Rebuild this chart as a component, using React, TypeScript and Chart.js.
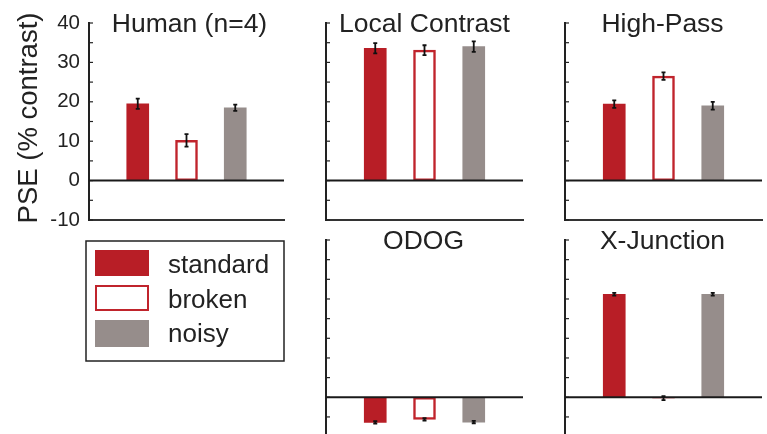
import React, { useEffect, useRef } from 'react';
import { Chart, registerables } from 'chart.js';

Chart.register(...registerables);

// ---------- data ----------
const conditions = ['standard', 'broken', 'noisy'];
const panelTitles = ['Human (n=4)', 'Local Contrast', 'High-Pass', 'ODOG', 'X-Junction'];
const humanValues = [19.5, 10.2, 18.5];
const humanErrors = [1.3, 1.6, 0.8];
const localContrastValues = [33.6, 33.1, 34.0];
const localContrastErrors = [1.3, 1.25, 1.35];
const highPassValues = [19.4, 26.5, 19.0];
const highPassErrors = [0.95, 0.95, 1.0];
const odogValues = [-6.4, -5.6, -6.3];
const odogErrors = [0.3, 0.3, 0.3];
const xJunctionValues = [26.2, -0.2, 26.2];
const xJunctionErrors = [0.35, 0.5, 0.35];
const yTickLabels = [-10, 0, 10, 20, 30, 40];
const yMin = -10;
const yMax = 40;
const yMinorStep = 5;
const yAxisTitle = 'PSE (% contrast)';

// ---------- styles ----------
const STD = 'rgb(184,30,38)';
const BROKEN = 'rgb(192,36,44)';
const NOISY = 'rgb(150,141,139)';
const INK = '#222';
const FONT = "'Liberation Sans', Arial, Helvetica, sans-serif";

const CANVAS_W = 767;
const CANVAS_H = 460;
const YW = 40;

type Area = { l: number; r: number; t: number; b: number };
type Panel = { title: string; values: number[]; errors: number[]; area: Area; showTicks: boolean; extras: boolean; titleDx: number };

const panels: Panel[] = [
  { title: panelTitles[0], values: humanValues, errors: humanErrors, area: { l: 89, r: 284, t: 23, b: 220 }, showTicks: true, extras: true, titleDx: 3 },
  { title: panelTitles[1], values: localContrastValues, errors: localContrastErrors, area: { l: 326, r: 523, t: 23, b: 220 }, showTicks: false, extras: false, titleDx: 0 },
  { title: panelTitles[2], values: highPassValues, errors: highPassErrors, area: { l: 565, r: 762, t: 23, b: 220 }, showTicks: false, extras: false, titleDx: -1 },
  { title: panelTitles[3], values: odogValues, errors: odogErrors, area: { l: 326, r: 523, t: 240, b: 436.6 }, showTicks: false, extras: false, titleDx: -1 },
  { title: panelTitles[4], values: xJunctionValues, errors: xJunctionErrors, area: { l: 565, r: 762, t: 240, b: 436.6 }, showTicks: false, extras: false, titleDx: -1 },
];

function PanelChart({ panel }: { panel: Panel }) {
  const ref = useRef<HTMLCanvasElement>(null);
  useEffect(() => {
    const canvas = ref.current!;
    const { l, r, t, b } = panel.area;
    const labels = ['', ...conditions, ''];
    const data = [null, ...panel.values, null];

    const decor = {
      id: 'panelDecor',
      afterDatasetsDraw(chart: any) {
        const ctx = chart.ctx;
        const ys = chart.scales.y;
        const xs = chart.scales.x;
        const ca = chart.chartArea;
        ctx.save();
        // inner minor tick marks
        ctx.strokeStyle = INK;
        ctx.lineWidth = 1.2;
        for (let v = yMin; v <= yMax; v += yMinorStep) {
          const y = ys.getPixelForValue(v);
          ctx.beginPath();
          ctx.moveTo(ca.left, y);
          ctx.lineTo(ca.left + 4, y);
          ctx.stroke();
        }
        // zero line
        const y0 = ys.getPixelForValue(0);
        ctx.strokeStyle = '#1a1a1a';
        ctx.lineWidth = 2;
        ctx.beginPath();
        ctx.moveTo(ca.left, y0);
        ctx.lineTo(ca.right, y0);
        ctx.stroke();
        // error bars
        ctx.strokeStyle = '#111';
        ctx.lineWidth = 1.8;
        panel.values.forEach((v, i) => {
          const e = panel.errors[i];
          const x = xs.getPixelForValue(i + 1);
          const yt = ys.getPixelForValue(v + e);
          const yb = ys.getPixelForValue(v - e);
          ctx.beginPath();
          ctx.moveTo(x, yt);
          ctx.lineTo(x, yb);
          ctx.moveTo(x - 2, yt);
          ctx.lineTo(x + 2, yt);
          ctx.moveTo(x - 2, yb);
          ctx.lineTo(x + 2, yb);
          ctx.stroke();
        });
        ctx.restore();
      },
      afterDraw(chart: any) {
        const ctx = chart.ctx;
        const ca = chart.chartArea;
        ctx.save();
        ctx.fillStyle = INK;
        ctx.font = `26.5px ${FONT}`;
        ctx.textAlign = 'center';
        ctx.textBaseline = 'alphabetic';
        ctx.fillText(panel.title, (ca.left + ca.right) / 2 + panel.titleDx, ca.top + 8.5);
        if (panel.extras) {
          // y axis title
          ctx.save();
          ctx.font = `27.5px ${FONT}`;
          ctx.translate(37, 118);
          ctx.rotate(-Math.PI / 2);
          ctx.textAlign = 'center';
          ctx.fillText(yAxisTitle, 0, 0);
          ctx.restore();
          // legend
          ctx.strokeStyle = INK;
          ctx.lineWidth = 1.5;
          ctx.strokeRect(86, 241, 198, 120);
          const swY = [250, 285, 320];
          const txtY = [272.5, 307.5, 341.5];
          conditions.forEach((c, i) => {
            if (i === 0) {
              ctx.fillStyle = STD;
              ctx.fillRect(95, swY[i], 54, 26);
            } else if (i === 1) {
              ctx.fillStyle = '#fff';
              ctx.fillRect(95, swY[i], 54, 26);
              ctx.strokeStyle = BROKEN;
              ctx.lineWidth = 2;
              ctx.strokeRect(96, swY[i] + 1, 52, 24);
            } else {
              ctx.fillStyle = NOISY;
              ctx.fillRect(95, swY[i], 54, 27);
            }
            ctx.fillStyle = INK;
            ctx.textAlign = 'left';
            ctx.font = `26px ${FONT}`;
            ctx.fillText(c, 168, txtY[i]);
          });
        }
        ctx.restore();
      },
    };

    const chart = new Chart(canvas, {
      type: 'bar',
      data: {
        labels,
        datasets: [
          {
            data: data as any,
            backgroundColor: ['rgba(0,0,0,0)', STD, '#ffffff', NOISY, 'rgba(0,0,0,0)'],
            borderColor: ['rgba(0,0,0,0)', STD, BROKEN, NOISY, 'rgba(0,0,0,0)'],
            borderWidth: [0, 0, 2.5, 0, 0],
            borderSkipped: false,
            barThickness: 22,
          } as any,
        ],
      },
      options: {
        animation: false,
        responsive: false,
        devicePixelRatio: 1,
        events: [],
        layout: {
          padding: { left: l - YW, right: CANVAS_W - r, top: t, bottom: CANVAS_H - b },
        },
        plugins: { legend: { display: false }, title: { display: false }, tooltip: { enabled: false } },
        scales: {
          x: {
            type: 'category',
            offset: false,
            grid: { display: false },
            border: { display: true, color: '#333', width: 2 },
            ticks: { display: false },
            afterFit: (s: any) => { s.height = 0; },
          },
          y: {
            min: yMin,
            max: yMax,
            grid: { display: false, drawTicks: false },
            border: { display: true, color: INK, width: 2 },
            ticks: {
              display: panel.showTicks,
              stepSize: yMinorStep,
              padding: 9,
              color: INK,
              font: { family: FONT, size: 20.5 },
              callback: (v: any) => (yTickLabels.includes(Number(v)) ? String(v) : ''),
            },
            afterFit: (s: any) => { s.width = YW; },
          },
        },
      } as any,
      plugins: [decor],
    });
    return () => chart.destroy();
  }, [panel]);
  return (
    <canvas
      ref={ref}
      width={CANVAS_W}
      height={CANVAS_H}
      style={{ position: 'absolute', left: 0, top: 0, width: CANVAS_W, height: CANVAS_H }}
    />
  );
}

export default function App() {
  return (
    <div
      style={{
        position: 'fixed',
        left: 0,
        top: 0,
        width: CANVAS_W,
        height: 434,
        overflow: 'hidden',
        background: '#fff',
      }}
    >
      {panels.map((p) => (
        <PanelChart key={p.title} panel={p} />
      ))}
    </div>
  );
}
